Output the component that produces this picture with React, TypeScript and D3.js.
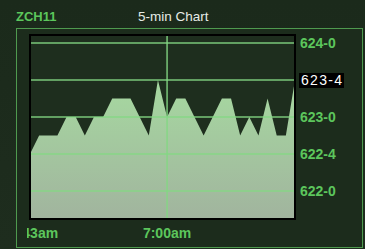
import React from "react";
import * as d3 from "d3";

const symbol = "ZCH11";
const chartTitle = "5-min Chart";
// price values (in decimal, quarter points) every 5 minutes
const prices = [
  622.5, 622.75, 622.75, 622.75, 623.0, 623.0, 622.75, 623.0, 623.0, 623.25,
  623.25, 623.25, 623.0, 622.75, 623.5, 623.0, 623.25, 623.25, 623.0, 622.75,
  623.0, 623.25, 623.25, 622.75, 623.0, 622.75, 623.25, 622.75, 622.75, 623.5,
];
const yTicks = [622.0, 622.5, 623.0, 623.5, 624.0];
const yTickLabels = ["622-0", "622-4", "623-0", "623-4", "624-0"];
const xTickIndex = [0, 15];
const xTickLabels = ["5:43am", "7:00am"];
const lastLabel = "623-4";

export default function App() {
  const W = 365, H = 249;
  const left = 30, right = 295, top = 35, bottom = 219;
  const x = d3.scaleLinear().domain([0, prices.length - 1]).range([left, right]);
  const y = d3.scaleLinear().domain([622, 624]).range([191, 43]);
  const area = d3
    .area<number>()
    .x((_, i) => x(i))
    .y0(bottom)
    .y1((d) => y(d));
  const font = "'Liberation Sans', Arial, sans-serif";
  const green = "#5cc65c";
  const last = prices[prices.length - 1];
  return (
    <svg
      width={W}
      height={H}
      style={{ position: "absolute", left: 0, top: 0, display: "block" }}
    >
      <defs>
        <linearGradient id="bg" x1="0" y1="0" x2="0" y2="1">
          <stop offset="0" stopColor="#1b2a1b" />
          <stop offset="1" stopColor="#1e2d1e" />
        </linearGradient>
        <linearGradient id="fill" x1="0" y1="0" x2="0" y2="1">
          <stop offset="0" stopColor="#a6d9a0" />
          <stop offset="1" stopColor="#a1b49e" />
        </linearGradient>
        <clipPath id="lblclip">
          <rect x={27} y={220} width={330} height={26} />
        </clipPath>
      </defs>
      <rect x={0} y={0} width={W} height={H} fill="url(#bg)" />
      <text x={16} y={21} fill={green} fontFamily={font} fontWeight="bold" fontSize={13}>
        {symbol}
      </text>
      <text x={138} y={21} fill="#e6ece6" fontFamily={font} fontSize={13.5}>
        {chartTitle}
      </text>
      {/* panel */}
      <rect x={16.5} y={28.5} width={346} height={219} fill="#1c2c1c" stroke="#4f9a4f" strokeWidth={1} />
      {/* plot area */}
      <rect x={left} y={top} width={right - left} height={bottom - top} fill="#1e2e1e" />
      <path d={area(prices) || ""} fill="url(#fill)" />
      {yTicks.map((t) => (
        <line key={t} x1={left} x2={right} y1={y(t)} y2={y(t)} stroke="#84d884" strokeWidth={1.5} opacity={0.9} />
      ))}
      {xTickIndex.slice(1).map((i) => (
        <line key={i} x1={x(i)} x2={x(i)} y1={top} y2={bottom} stroke="#84d884" strokeWidth={1.5} opacity={0.9} />
      ))}
      <rect x={left} y={top} width={right - left} height={bottom - top} fill="none" stroke="#000" strokeWidth={2} />
      {yTicks.map((t, k) =>
        yTickLabels[k] === lastLabel ? null : (
          <text key={t} x={300} y={y(t) + 5} fill={green} fontFamily={font} fontWeight="bold" fontSize={14}>
            {yTickLabels[k]}
          </text>
        )
      )}
      <rect x={299} y={y(last) - 7} width={45} height={15} fill="#000" />
      <text x={301} y={y(last) + 5} fill="#ffffff" fontFamily={font} fontSize={14} textLength={41}>
        {lastLabel}
      </text>
      <g clipPath="url(#lblclip)">
        {xTickIndex.map((i, k) => (
          <text key={i} x={k === 0 ? x(i) + 4 : x(i)} y={238} textAnchor="middle" fill={green} fontFamily={font} fontWeight="bold" fontSize={14}>
            {xTickLabels[k]}
          </text>
        ))}
      </g>
    </svg>
  );
}
